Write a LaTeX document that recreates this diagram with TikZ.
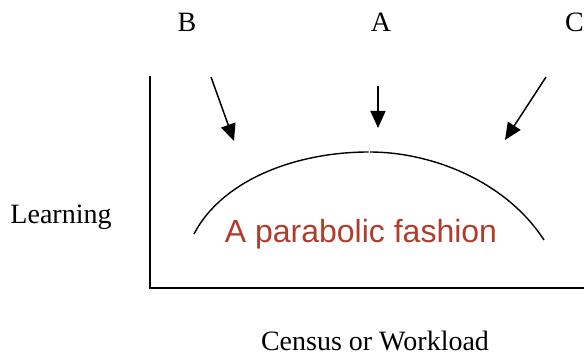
\documentclass[tikz,border=0pt]{standalone}
\usepackage{fontspec}
\setmainfont{Liberation Serif}
\newfontfamily\notefont{Liberation Sans}
\usetikzlibrary{arrows.meta, positioning}
\definecolor{notered}{RGB}{176,60,44}

\begin{document}
\begin{tikzpicture}[x=1pt, y=-1pt,
      lab/.style={anchor=base, inner sep=0pt, font=\fontsize{28}{30}\selectfont},
      note/.style={anchor=base, inner sep=0pt, text=notered,
        font=\notefont\fontsize{32}{34}\selectfont},
      axis/.style={line width=1.5pt, line cap=rect},
      curve/.style={line width=1.4pt},
      arrow/.style={-{Triangle[length=17pt, width=15pt]}, line width=1.5pt}
    ]
      \useasboundingbox (0,0) rectangle (584,358);
      % --- labels above the plot ---
      \node[lab] (labB) at (187,32) {B};
      \node[lab] (labA) at (381,32) {A};
      \node[lab, anchor=base west] (labC) at (565,32) {C};
      % --- axes and their names ---
      \coordinate (ytop) at (150,77);
      \coordinate (orig) at (150,288);
      \coordinate (xend) at (584,288);
      \draw[axis] (ytop) -- (orig) -- (xend);
      \node[lab] (ylab) at (61,224) {Learning};
      \node[lab] (xlab) at (375,350) {Census or Workload};
      % --- the curve, two halves meeting at the top ---
      \coordinate (cl) at (194,234);
      \coordinate (cpl) at (368.5,152);
      \coordinate (cpr) at (370,152);
      \coordinate (cr) at (544,240);
      \draw[curve] (cl) .. controls (222,180) and (296,152) .. (cpl);
      \draw[curve] (cpr) .. controls (430,152) and (505,180) .. (cr);
      \node[note] (fash) at (361,243) {A parabolic fashion};
      % --- arrows towards the curve ---
      \coordinate (bs) at (211,77);
      \coordinate (bt) at (234,141);
      \coordinate (as) at (378,86);
      \coordinate (at) at (378,128);
      \coordinate (cs) at (546,77);
      \coordinate (ct) at (505,140);
      \draw[arrow] (bs) -- (bt);
      \draw[arrow] (as) -- (at);
      \draw[arrow] (cs) -- (ct);
    \end{tikzpicture}
\end{document}
